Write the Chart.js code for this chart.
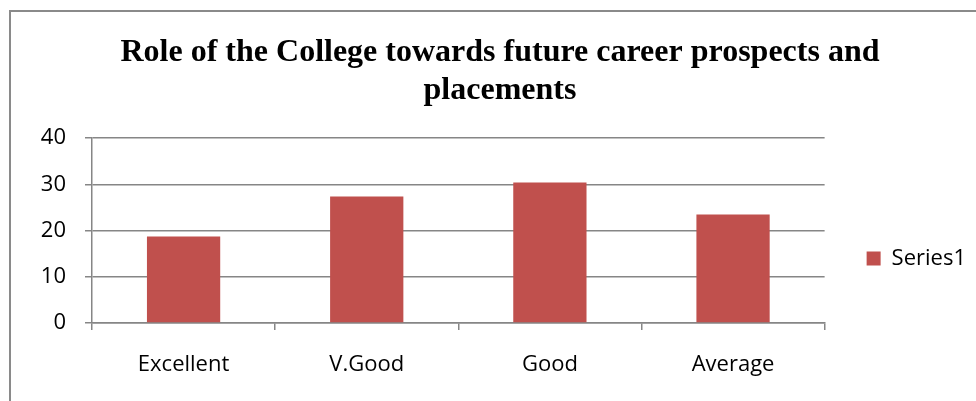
<!DOCTYPE html>
<html lang="en">

<head>
    <meta charset="UTF-8">
    <title>Role of the College</title>
    <style>
        html, body { margin: 0; padding: 0; background: #fff; }
        #frame {
            position: absolute; left: 9px; top: 10px; width: 967px; height: 391px;
            border-left: 2px solid #8a8a8a; border-top: 2px solid #8a8a8a;
        }
        #myChart { position: absolute; left: 0; top: 0; }
    </style>
</head>

<body>
    <div id="frame"></div>
    <canvas id="myChart" width="976" height="401"></canvas>

    <script src="https://cdn.jsdelivr.net/npm/chart.js"></script>

    <script>
        // datos
        const categorias = ['Excellent', 'V.Good', 'Good', 'Average']
        const series1 = [18.7, 27.4, 30.4, 23.5]
        const yTicks = [0, 10, 20, 30, 40]

        const gris = '#868686'
        const fuente = { family: "'Open Sans'", size: 22 }

        const ctx = document.getElementById('myChart')
        const chart = new Chart(ctx, {
            type: 'bar',
            data: {
                labels: categorias,
                datasets: [{
                    label: 'Series1',
                    data: series1,
                    backgroundColor: '#C0504D',
                    borderWidth: 0,
                    barPercentage: 1,
                    categoryPercentage: 0.4
                }]
            },
            options: {
                responsive: false,
                animation: false,
                layout: { padding: { left: 24, right: 0, top: 0, bottom: 0 } },
                plugins: {
                    title: {
                        display: true,
                        text: ['Role of the College towards future career prospects and', 'placements'],
                        color: '#000',
                        font: { family: "'Liberation Serif'", size: 32, weight: 'bold', lineHeight: 1.19 },
                        padding: { top: 34, bottom: 28 }
                    },
                    legend: {
                        position: 'right',
                        maxWidth: 154,
                        // titulo vacio solo para bajar la leyenda
                        title: { display: true, text: ' ', font: { size: 1 }, padding: { top: 0, bottom: 115 } },
                        labels: {
                            color: '#000',
                            font: fuente,
                            boxWidth: 14,
                            boxHeight: 14,
                            padding: 42
                        }
                    },
                    tooltip: { enabled: false }
                },
                scales: {
                    x: {
                        afterFit: s => { s.height = 78 },
                        grid: { drawOnChartArea: false, color: gris, tickLength: 7, lineWidth: 1.5 },
                        border: { color: gris, width: 1.5 },
                        ticks: { color: '#000', font: fuente, padding: 22 }
                    },
                    y: {
                        min: 0,
                        max: 40,
                        afterFit: s => { s.width = 68 },
                        afterBuildTicks: s => { s.ticks = yTicks.map(v => ({ value: v })) },
                        grid: { color: gris, tickLength: 7, lineWidth: 1.5 },
                        border: { color: gris, width: 1.5 },
                        ticks: { color: '#000', font: fuente, padding: 19 }
                    }
                }
            }
        })
    </script>

</body>

</html>
